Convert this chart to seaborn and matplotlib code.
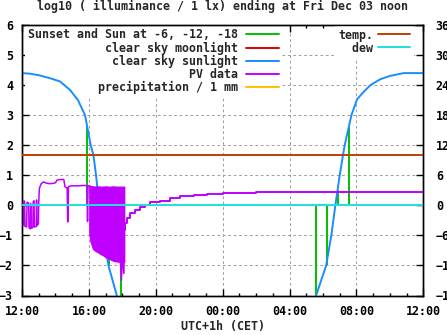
import matplotlib
matplotlib.use("Agg")
import matplotlib.pyplot as plt
import seaborn as sns
from matplotlib.lines import Line2D

# ---------------- data (hours since Thu 12:00 CET) ----------------
x_tick_pos = [0, 4, 8, 12, 16, 20, 24]
x_tick_labels = ["12:00", "16:00", "20:00", "00:00", "04:00", "08:00", "12:00"]
x_minor_pos = list(range(0, 25))
y_ticks = [-3, -2, -1, 0, 1, 2, 3, 4, 5, 6]
y2_ticks = [-18, -12, -6, 0, 6, 12, 18, 24, 30, 36]

# sunset / sun at -6, -12, -18 (impulses from 0) and the morning counterpart
sun_t = [3.91, 4.55, 5.19, 5.91, 17.59, 18.22, 18.90, 19.56]
sun_v = [2.65, 0.50, -2.00, -3.00, -3.00, -2.00, 0.50, 2.60]

# clear sky moonlight (off scale / none)
moon_t = []
moon_v = []

# clear sky sunlight
clear_t = [0.00, 0.48, 1.00, 1.68, 2.28, 2.87, 3.35, 3.77, 4.11, 4.27, 4.43,
           4.61, 4.87, 5.17, 5.67, 5.85,
           17.40, 17.59, 18.19, 18.50, 18.74, 19.00, 19.20, 19.30, 19.70,
           20.04, 20.44, 20.84, 21.44, 22.04, 22.83, 24.00]
clear_v = [4.40, 4.38, 4.33, 4.23, 4.12, 3.84, 3.50, 3.00, 2.00, 1.68, 1.00,
           0.00, -1.00, -2.00, -3.00, -3.30,
           -3.30, -3.00, -2.00, -1.00, 0.00, 1.00, 1.68, 2.00, 3.00,
           3.53, 3.78, 4.00, 4.20, 4.31, 4.40, 4.40]

# PV data: afternoon part
pv_t = [0.00, 0.04, 0.10, 0.12, 0.16, 0.18, 0.28, 0.30, 0.40, 0.42, 0.50,
        0.52, 0.55, 0.65, 0.67, 0.72, 0.74, 0.85, 0.87, 0.89, 0.98, 1.00,
        1.04, 1.15, 1.28, 1.45, 1.65, 1.85, 2.00, 2.10, 2.17, 2.35, 2.50,
        2.57, 2.62, 2.70, 2.73, 2.75, 2.78, 2.85, 3.10, 3.40, 3.70, 3.88,
        3.92, 3.95, 4.03]
pv_v = [0.30, -0.62, -0.66, 0.15, 0.12, -0.70, -0.72, 0.10, 0.08, -0.75,
        -0.78, 0.05, -0.76, -0.74, 0.12, 0.15, -0.72, -0.70, 0.18, -0.68,
        -0.62, 0.10, 0.57, 0.72, 0.78, 0.74, 0.72, 0.73, 0.75, 0.84, 0.85,
        0.86, 0.86, 0.62, 0.60, 0.58, -0.55, -0.52, 0.62, 0.64, 0.65, 0.65,
        0.66, 0.66, -0.54, 0.64, 0.66]

# PV data: dense oscillation at dusk (envelope)
blk_t = [4.03, 4.10, 4.25, 4.40, 4.55, 4.70, 4.85, 5.00, 5.15, 5.30, 5.45,
         5.60, 5.75, 5.85, 5.92, 5.96, 6.02, 6.05, 6.08, 6.11]
blk_hi = [0.66, 0.64, 0.63, 0.62, 0.63, 0.62, 0.62, 0.63, 0.62, 0.62, 0.63,
          0.62, 0.62, 0.62, 0.62, 0.62, 0.62, 0.62, 0.62, 0.62]
blk_lo = [-0.95, -1.20, -1.45, -1.52, -1.56, -1.62, -1.66, -1.72, -1.76,
          -1.80, -1.84, -1.86, -1.87, -1.88, -2.48, -1.88, -1.86, -2.25,
          -1.86, -1.88]

# PV data: night part
night_t = [6.11, 6.17, 6.27, 6.47, 6.77, 7.07, 7.37, 7.66, 8.26, 8.86, 9.46,
           10.26, 11.06, 12.05, 14.00, 16.00, 18.00, 20.00, 22.00, 24.00]
night_v = [-0.81, -0.59, -0.42, -0.26, -0.15, -0.06, 0.02, 0.10, 0.16, 0.24,
           0.30, 0.34, 0.37, 0.41, 0.43, 0.44, 0.44, 0.44, 0.44, 0.44]

# precipitation (none)
rain_t = []
rain_v = []

# right axis: temperature and dew point (deg C)
temp_t = [0.0, 24.0]
temp_v = [10.1, 10.1]
dew_t = [0.0, 24.0]
dew_v = [0.0, 0.0]

title = "log10 ( illuminance / 1 lx) ending at Fri Dec 03 noon"
xlabel = "UTC+1h (CET)"
left_labels = ["Sunset and Sun at -6, -12, -18", "clear sky moonlight",
               "clear sky sunlight", "PV data", "precipitation / 1 mm"]
right_labels = ["temp.", "dew"]

# ---------------- style ----------------
C_GREEN = "#00c000"
C_RED = "#e00000"
C_BLUE = "#1a8cff"
C_PURPLE = "#c000ff"
C_YELLOW = "#ffc000"
C_BROWN = "#c04000"
C_CYAN = "#20e0e0"

sns.set_theme(style="white")
plt.rcParams["font.family"] = ["DejaVu Sans Mono"]
plt.rcParams["font.weight"] = "bold"
FS = 8.4

fig = plt.figure(figsize=(4.47, 3.35), dpi=100)
ax = fig.add_axes([22 / 447, 1 - 295.5 / 335, (423.3 - 22) / 447, (295.5 - 25) / 335])
ax2 = ax.twinx()

LW = 1.4

ax.vlines(sun_t, 0, sun_v, color=C_GREEN, lw=LW, zorder=3)
if moon_t:
    sns.lineplot(x=moon_t, y=moon_v, ax=ax, color=C_RED, lw=LW, zorder=3.1)
sns.lineplot(x=clear_t, y=clear_v, ax=ax, color=C_BLUE, lw=LW, zorder=3.2,
             estimator=None, sort=False)
sns.lineplot(x=pv_t, y=pv_v, ax=ax, color=C_PURPLE, lw=1.1, zorder=3.3,
             estimator=None, sort=False)
ax.fill_between(blk_t, blk_lo, blk_hi, color=C_PURPLE, lw=1.0, zorder=3.3)
sns.lineplot(x=night_t, y=night_v, ax=ax, color=C_PURPLE, lw=LW, zorder=3.3,
             estimator=None, sort=False, drawstyle="steps-post")
if rain_t:
    sns.lineplot(x=rain_t, y=rain_v, ax=ax, color=C_YELLOW, lw=LW, zorder=3.4)

sns.lineplot(x=temp_t, y=temp_v, ax=ax2, color=C_BROWN, lw=LW, zorder=3,
             estimator=None, sort=False)
sns.lineplot(x=dew_t, y=dew_v, ax=ax2, color=C_CYAN, lw=LW, zorder=3.1,
             estimator=None, sort=False)

ax.set_xlim(0, 24)
ax.set_ylim(-3, 6)
ax2.set_ylim(-18, 36)

ax.set_xticks(x_tick_pos)
ax.set_xticklabels(x_tick_labels)
ax.set_xticks(x_minor_pos, minor=True)
ax.set_yticks(y_ticks)
ax2.set_yticks(y2_ticks)

ax.grid(True, which="major", color="#a0a0a0", linestyle=(0, (2.6, 2.6)), lw=0.75)
ax2.grid(False)

ax.tick_params(axis="both", which="both", direction="in", colors="black",
               labelsize=FS, top=True, bottom=True, left=True, right=False)
ax.tick_params(axis="both", which="major", length=5, width=1)
ax.tick_params(axis="both", which="minor", length=2.5, width=1)
ax.tick_params(axis="x", pad=6.5)
ax.tick_params(axis="y", pad=6.5)
ax2.tick_params(axis="y", direction="in", length=5, width=1, labelsize=FS,
                pad=9, colors="black")

for a in (ax, ax2):
    for s in a.spines.values():
        s.set_color("black")
        s.set_linewidth(1.0)

ax.set_xlabel(xlabel, fontsize=FS, fontweight="bold", labelpad=2)
ax.set_ylabel("")
ax2.set_ylabel("")
ax.set_title(title, fontsize=FS, fontweight="bold", pad=10.5)

# legends (monospace text, right-aligned by left padding)
w = max(len(s) for s in left_labels)
lh = [Line2D([], [], color=c, lw=LW) for c in (C_GREEN, C_RED, C_BLUE, C_PURPLE, C_YELLOW)]
leg = ax.legend(lh, [s.rjust(w) for s in left_labels], loc="upper left",
                bbox_to_anchor=(0.007, 1.0),
                prop={"size": FS, "weight": "bold"}, markerfirst=False,
                frameon=True, facecolor="white", edgecolor="none", framealpha=1,
                fancybox=False, borderpad=0.3, borderaxespad=0.0,
                labelspacing=0.0, handlelength=2.75, handletextpad=0.7)
leg.set_zorder(1.9)
w2 = max(len(s) for s in right_labels)
rh = [Line2D([], [], color=c, lw=LW) for c in (C_BROWN, C_CYAN)]
leg2 = ax2.legend(rh, [s.rjust(w2) for s in right_labels], loc="upper right",
                  bbox_to_anchor=(0.9756, 1.0),
                  prop={"size": FS, "weight": "bold"}, markerfirst=False,
                  frameon=True, facecolor="white", edgecolor="none", framealpha=1,
                  fancybox=False, borderpad=0.3, borderaxespad=0.0,
                  labelspacing=0.0, handlelength=2.75, handletextpad=0.4)
leg2.set_zorder(1.9)

fig.savefig("out.png", dpi=100)
